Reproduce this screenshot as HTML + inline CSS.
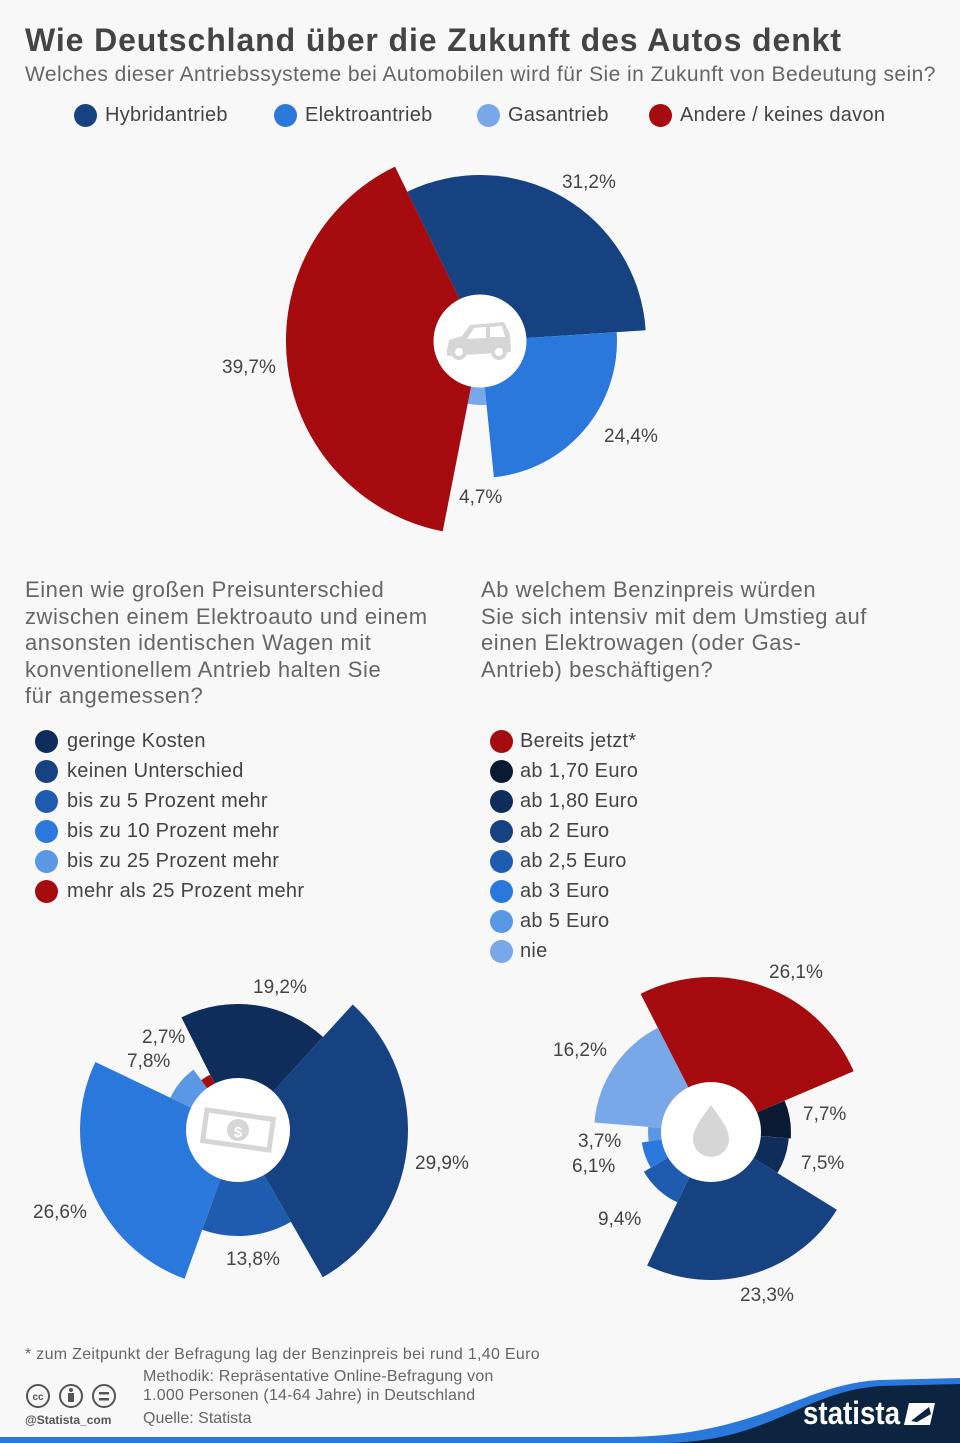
<!DOCTYPE html>
<html><head><meta charset="utf-8">
<style>
body{margin:0;background:#f8f8f8;font-family:"Liberation Sans",sans-serif;}
#w{position:relative;width:960px;height:1443px;overflow:hidden;background:#f8f8f8;}
.t{position:absolute;white-space:nowrap;color:#555;}
.dot{position:absolute;width:23px;height:23px;border-radius:50%;}
.lg{position:absolute;font-size:20px;color:#444;white-space:nowrap;letter-spacing:0.3px;}
</style></head><body><div id="w">
<div class="t" style="left:25px;top:22px;font-size:32px;font-weight:bold;color:#444;letter-spacing:0.9px">Wie Deutschland über die Zukunft des Autos denkt</div>
<div class="t" style="left:25px;top:63px;font-size:21px;color:#666;letter-spacing:0.45px">Welches dieser Antriebssysteme bei Automobilen wird für Sie in Zukunft von Bedeutung sein?</div>

<div class="dot" style="left:74px;top:104px;background:#174282"></div><div class="lg" style="left:105px;top:104px">Hybridantrieb</div>
<div class="dot" style="left:274px;top:104px;background:#2a78dc"></div><div class="lg" style="left:305px;top:104px">Elektroantrieb</div>
<div class="dot" style="left:477px;top:104px;background:#79a8e8"></div><div class="lg" style="left:508px;top:104px">Gasantrieb</div>
<div class="dot" style="left:649px;top:104px;background:#a50a0e"></div><div class="lg" style="left:680px;top:104px">Andere / keines davon</div>

<svg id="s" width="960" height="1443" style="position:absolute;left:0;top:0"></svg>

<div class="t" style="left:25px;top:577px;font-size:22px;line-height:26.5px;color:#666;letter-spacing:0.55px">Einen wie großen Preisunterschied<br>zwischen einem Elektroauto und einem<br>ansonsten identischen Wagen mit<br>konventionellem Antrieb halten Sie<br>für angemessen?</div>
<div class="t" style="left:481px;top:577px;font-size:22px;line-height:26.5px;color:#666;letter-spacing:0.55px">Ab welchem Benzinpreis würden<br>Sie sich intensiv mit dem Umstieg auf<br>einen Elektrowagen (oder Gas-<br>Antrieb) beschäftigen?</div>

<div class="dot" style="left:35px;top:730px;background:#0f2d5a"></div><div class="lg" style="left:67px;top:730px">geringe Kosten</div>
<div class="dot" style="left:35px;top:760px;background:#174282"></div><div class="lg" style="left:67px;top:760px">keinen Unterschied</div>
<div class="dot" style="left:35px;top:790px;background:#1f5cb0"></div><div class="lg" style="left:67px;top:790px">bis zu 5 Prozent mehr</div>
<div class="dot" style="left:35px;top:820px;background:#2a78dc"></div><div class="lg" style="left:67px;top:820px">bis zu 10 Prozent mehr</div>
<div class="dot" style="left:35px;top:850px;background:#5a98e6"></div><div class="lg" style="left:67px;top:850px">bis zu 25 Prozent mehr</div>
<div class="dot" style="left:35px;top:880px;background:#a50a0e"></div><div class="lg" style="left:67px;top:880px">mehr als 25 Prozent mehr</div>

<div class="dot" style="left:490px;top:730px;background:#a50a0e"></div><div class="lg" style="left:520px;top:730px">Bereits jetzt*</div>
<div class="dot" style="left:490px;top:760px;background:#0a1a33"></div><div class="lg" style="left:520px;top:760px">ab 1,70 Euro</div>
<div class="dot" style="left:490px;top:790px;background:#0f2d5a"></div><div class="lg" style="left:520px;top:790px">ab 1,80 Euro</div>
<div class="dot" style="left:490px;top:820px;background:#174282"></div><div class="lg" style="left:520px;top:820px">ab 2 Euro</div>
<div class="dot" style="left:490px;top:850px;background:#1f5cb0"></div><div class="lg" style="left:520px;top:850px">ab 2,5 Euro</div>
<div class="dot" style="left:490px;top:880px;background:#2a78dc"></div><div class="lg" style="left:520px;top:880px">ab 3 Euro</div>
<div class="dot" style="left:490px;top:910px;background:#5a98e6"></div><div class="lg" style="left:520px;top:910px">ab 5 Euro</div>
<div class="dot" style="left:490px;top:940px;background:#79a8e8"></div><div class="lg" style="left:520px;top:940px">nie</div>

<div class="t" style="left:25px;top:1346px;font-size:16px;color:#666;letter-spacing:0.3px">* zum Zeitpunkt der Befragung lag der Benzinpreis bei rund 1,40 Euro</div>
<div class="t" style="left:143px;top:1368px;font-size:16px;line-height:18.5px;color:#666;letter-spacing:0.2px">Methodik: Repräsentative Online-Befragung von<br>1.000 Personen (14-64 Jahre) in Deutschland</div>
<div class="t" style="left:143px;top:1410px;font-size:16px;color:#666">Quelle: Statista</div>
<div class="t" style="left:25px;top:1413px;font-size:12px;font-weight:bold;color:#555">@Statista_com</div>
</div>
<script>
var s=document.getElementById('s'),h='';
function P(cx,cy,r,a0,a1,c){var R=Math.PI/180;function pt(a){return (cx+r*Math.sin(a*R)).toFixed(1)+','+(cy-r*Math.cos(a*R)).toFixed(1);}
h+='<path d="M'+cx+','+cy+' L'+pt(a0)+' A'+r+','+r+' 0 '+((a1-a0)>180?1:0)+' 1 '+pt(a1)+' Z" fill="'+c+'"/>';}
function chart(cx,cy,start,ir,d){var a=start;d.forEach(function(x){var e=a+x[0]*3.6;P(cx,cy,x[1],a,e,x[2]);a=e;});
h+='<circle cx="'+cx+'" cy="'+cy+'" r="'+ir+'" fill="#fff"/>';}
chart(480,341,-26,46.5,[[31.2,166,'#174282'],[24.4,137,'#2a78dc'],[4.7,64,'#79a8e8'],[39.7,194,'#a50a0e']]);
chart(238,1130,-26.7,52,[[19.2,126,'#0f2d5a'],[29.9,170,'#174282'],[13.8,106,'#1f5cb0'],[26.6,158,'#2a78dc'],[7.8,75,'#5a98e6'],[2.7,62,'#a50a0e']]);
chart(711,1132,-27,50,[[26.1,155,'#a50a0e'],[7.7,80,'#0a1a33'],[7.5,78,'#0f2d5a'],[23.3,148,'#174282'],[9.4,78,'#1f5cb0'],[6.1,70,'#2a78dc'],[3.7,63,'#5a98e6'],[16.2,117,'#79a8e8']]);
// car icon
h+='<g fill="#d6d6d6"><path d="M447,350 L449,340 L462,336 L470,325 L504,322 L510,334 L511,352 L447,356 Z"/><circle cx="459" cy="352" r="8"/><circle cx="499" cy="352" r="8"/></g><g fill="#fff"><circle cx="459" cy="352" r="4"/><circle cx="499" cy="352" r="4"/><path d="M474,328 L486,327 L486,338 L467,339 Z"/><path d="M490,327 L502,326 L505,337 L490,337 Z"/></g>';
// money
h+='<g transform="rotate(8 238 1130)"><rect x="202" y="1112" width="72" height="36" fill="#d6d6d6"/><rect x="207" y="1117" width="62" height="26" fill="#fff"/><circle cx="238" cy="1130" r="11" fill="#d6d6d6"/></g><text x="238" y="1137" font-size="15" font-weight="bold" fill="#fff" text-anchor="middle" font-family="Liberation Sans">$</text>';
// drop
h+='<path d="M711,1105 C700,1120 693,1130 693,1139 A18,18 0 0 0 729,1139 C729,1130 722,1120 711,1105 Z" fill="#d6d6d6"/>';
function L(x,y,t){h+='<text x="'+x+'" y="'+y+'" font-size="19" fill="#444" font-family="Liberation Sans">'+t+'</text>';}
L(562,188,'31,2%');L(604,442,'24,4%');L(459,503,'4,7%');L(222,373,'39,7%');
L(253,993,'19,2%');L(142,1043,'2,7%');L(127,1067,'7,8%');L(415,1169,'29,9%');L(226,1265,'13,8%');L(33,1218,'26,6%');
L(769,978,'26,1%');L(553,1056,'16,2%');L(803,1120,'7,7%');L(801,1169,'7,5%');L(578,1147,'3,7%');L(572,1172,'6,1%');L(598,1225,'9,4%');L(740,1301,'23,3%');
[38,71,104].forEach(function(x){h+='<circle cx="'+x+'" cy="1396" r="11" fill="none" stroke="#555" stroke-width="2"/>';});
h+='<text x="38" y="1400" font-size="10" font-weight="bold" fill="#555" text-anchor="middle" font-family="Liberation Sans">cc</text><circle cx="71" cy="1390" r="2" fill="#555"/><rect x="68" y="1393" width="6" height="9" fill="#555"/><rect x="99" y="1392" width="10" height="2.5" fill="#555"/><rect x="99" y="1398" width="10" height="2.5" fill="#555"/>';
// footer wave
h+='<path d="M0,1437 L620,1437 C760,1437 800,1384 880,1380 L960,1378 L960,1443 L0,1443 Z" fill="#2a78dc"/>';
h+='<path d="M660,1443 C770,1443 800,1392 880,1386 L960,1384 L960,1443 Z" fill="#0d2440"/>';
h+='<text x="803" y="1424" font-size="32" font-weight="bold" fill="#fff" font-family="Liberation Sans" textLength="97" lengthAdjust="spacingAndGlyphs">statista</text>';
h+='<path d="M909,1403 L935,1403 L930,1425 L904,1425 Z" fill="#fff"/><path d="M911,1421 L929,1407 L931,1414 L917,1422 Z" fill="#0d2440"/>';
s.innerHTML=h;
</script>
</body></html>
